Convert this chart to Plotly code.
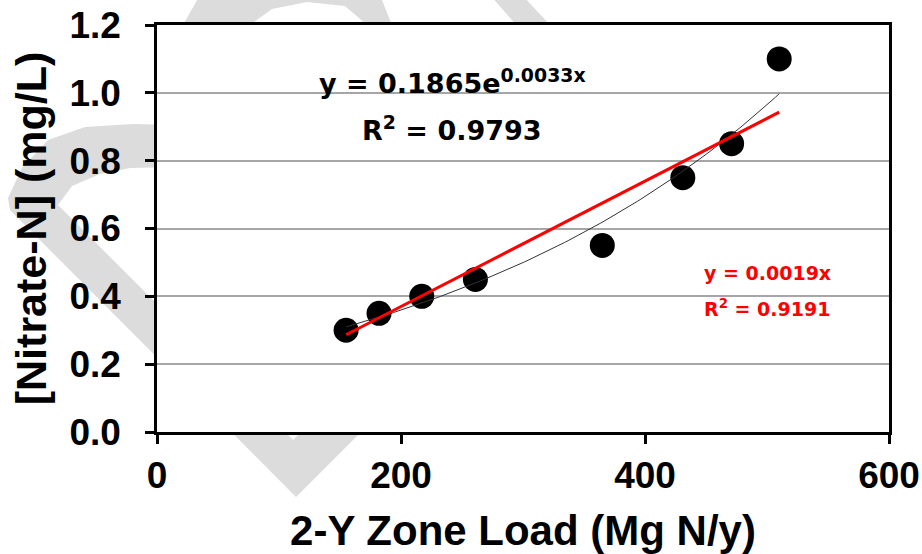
import numpy as np
import plotly.graph_objects as go

# ---- data ----
zone_load = [155, 182, 217, 261, 365, 431, 471, 510]          # Mg N/y
nitrate = [0.30, 0.35, 0.40, 0.45, 0.55, 0.75, 0.85, 1.10]     # mg/L
x_ticks = [0, 200, 400, 600]
exp_label = "y = 0.1865e<sup>0.0033x</sup>"
exp_r2 = "R<sup>2</sup> = 0.9793"
lin_label = "y = 0.0019x"
lin_r2 = "R<sup>2</sup> = 0.9191"

# ---- trendlines fitted to the data (as the spreadsheet did) ----
xa = np.array(zone_load, float)
ya = np.array(nitrate, float)
slope0 = (xa * ya).sum() / (xa * xa).sum()          # linear, intercept 0
b, lna = np.polyfit(xa, np.log(ya), 1)              # exponential
xs = np.linspace(xa.min(), xa.max(), 120)
y_exp = np.exp(lna) * np.exp(b * xs)
x_lin = [xa.min(), xa.max()]
y_lin = [slope0 * v for v in x_lin]

# ---- geometry (page pixels) ----
W, H = 922, 554
L, R, T, B = 157, 889, 25, 432


def pp(x, y):
    return (x - L) / (R - L), (B - y) / (B - T)


def path(points):
    pts = [pp(*p) for p in points]
    s = "M %.4f,%.4f " % pts[0]
    for p in pts[1:]:
        s += "L %.4f,%.4f " % p
    return s + "Z"


wm = "#dcdcdc"
left_band = [(175, 125), (133, 124), (85, 127), (48, 140), (22, 168), (8, 198), (10, 210),
             (296, 497), (430, 363), (430, 303), (293, 440), (58, 205), (72, 186),
             (100, 174), (130, 168), (175, 167)]
arch = [(183, 25), (200, -5), (240, -40), (300, -55), (370, -30), (392, 25), (367, 25),
        (345, 6), (307, 2), (272, 9), (250, 25)]
slant = [(490, -5), (522, -5), (552, 27), (518, 27)]

shapes = []
for poly in (left_band, arch, slant):
    shapes.append(dict(type="path", xref="paper", yref="paper", path=path(poly),
                       fillcolor=wm, line=dict(width=0), layer="below"))
shapes.append(dict(type="rect", xref="paper", yref="paper", x0=0, x1=1, y0=0, y1=1,
                   fillcolor="white", line=dict(width=0), layer="below"))

fig = go.Figure()
fig.add_trace(go.Scatter(x=zone_load, y=nitrate, mode="markers",
                         marker=dict(size=25, color="black"), showlegend=False))
fig.add_trace(go.Scatter(x=xs, y=y_exp, mode="lines",
                         line=dict(color="#333333", width=1), showlegend=False))
fig.add_trace(go.Scatter(x=x_lin, y=y_lin, mode="lines",
                         line=dict(color="#ff0000", width=3), showlegend=False))

axfont = dict(family="Liberation Sans, Arial, sans-serif", weight="bold", color="black")
eqfont = "DejaVu Sans, sans-serif"

fig.update_layout(
    width=W, height=H,
    margin=dict(l=L, r=W - R, t=T, b=H - B, pad=0, autoexpand=False),
    paper_bgcolor="white", plot_bgcolor="white",
    shapes=shapes,
    xaxis=dict(range=[0, 600], tickvals=x_ticks, ticks="outside", ticklen=9, tickwidth=2.5,
               tickcolor="black", showline=True, linewidth=2.5, linecolor="black", mirror=True,
               showgrid=False, zeroline=False, tickfont=dict(size=37, **axfont),
               ticklabelstandoff=0, automargin=False, ticklabeloverflow="allow",
               title=dict(text="2-Y Zone Load (Mg N/y)", font=dict(size=42, **axfont), standoff=26)),
    yaxis=dict(range=[0, 1.2], dtick=0.2, tickformat=".1f", ticks="outside", ticklen=9,
               tickwidth=2.5, tickcolor="black", showline=True, linewidth=2.5, linecolor="black",
               mirror=True, showgrid=True, gridcolor="#a6a6a6", gridwidth=1.5, zeroline=False,
               tickfont=dict(size=37, **axfont), ticklabelstandoff=17, automargin=False,
               ticklabeloverflow="allow",
               title=dict(text="[Nitrate-N] (mg/L)", font=dict(size=43, **axfont), standoff=10)),
    annotations=[
        dict(x=242, y=1.032, xref="x", yref="y", text=exp_label, showarrow=False,
             xanchor="center", yanchor="middle",
             font=dict(family=eqfont, size=27, weight="bold", color="black")),
        dict(x=242, y=0.895, xref="x", yref="y", text=exp_r2, showarrow=False,
             xanchor="center", yanchor="middle",
             font=dict(family=eqfont, size=27, weight="bold", color="black")),
        dict(x=446.7, y=0.469, xref="x", yref="y", text=lin_label, showarrow=False,
             xanchor="left", yanchor="middle",
             font=dict(family=eqfont, size=19, weight="bold", color="#ff0000")),
        dict(x=446.7, y=0.365, xref="x", yref="y", text=lin_r2, showarrow=False,
             xanchor="left", yanchor="middle",
             font=dict(family=eqfont, size=19, weight="bold", color="#ff0000")),
    ],
)

fig.write_html("out.html", config={"displayModeBar": False},
               post_script="document.body.style.margin='0';")
